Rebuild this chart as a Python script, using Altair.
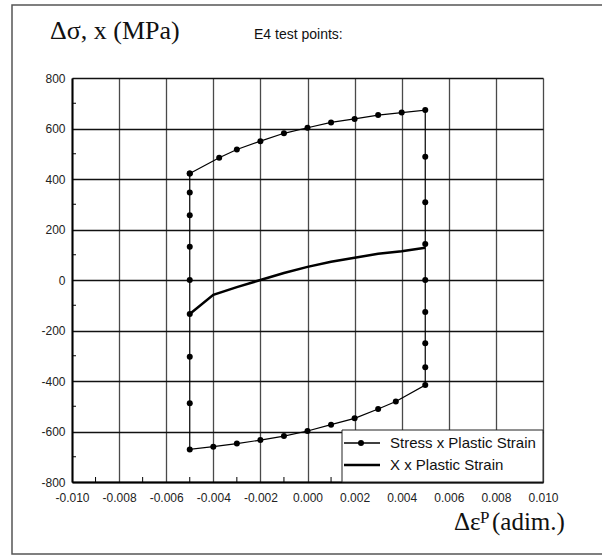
import altair as alt
import pandas as pd

# ---------------- data ----------------
# Stress x Plastic Strain hysteresis loop (drawing order)
stress_strain = [-0.005, -0.00375, -0.003, -0.002, -0.001, 0.0, 0.001, 0.002, 0.003, 0.004, 0.005,
                 0.005, 0.005, 0.005, 0.005, 0.005, 0.005, 0.005, 0.005,
                 0.00375, 0.003, 0.002, 0.001, 0.0, -0.001, -0.002, -0.003, -0.004, -0.005,
                 -0.005, -0.005, -0.005, -0.005, -0.005, -0.005, -0.005, -0.005]
stress_value = [422, 484, 517, 550, 581, 603, 624, 638, 653, 663, 673,
                488, 308, 143, 0, -127, -250, -346, -416,
                -481, -511, -548, -573, -598, -618, -634, -648, -660, -671,
                -488, -304, -135, 0, 132, 256, 347, 422]

# X x Plastic Strain (back stress)
back_strain = [-0.005, -0.004, -0.003, -0.002, -0.001, 0.0, 0.001, 0.002, 0.003, 0.004, 0.005]
back_value = [-135, -59, -28, 0, 28, 52, 72, 88, 104, 114, 128]

x_ticks = [-0.010, -0.008, -0.006, -0.004, -0.002, 0.0, 0.002, 0.004, 0.006, 0.008, 0.010]
y_ticks = [-800, -600, -400, -200, 0, 200, 400, 600, 800]
x_minor = [-0.009, -0.007, -0.005, -0.003, -0.001, 0.001, 0.003, 0.005, 0.007, 0.009]
y_minor = [-700, -500, -300, -100, 100, 300, 500, 700]

y_title = "Δσ, x (MPa)"
top_note = "E4 test points:"
x_title_main = "Δε"
x_title_sup = "P"
x_title_tail = "(adim.)"
legend_labels = ["Stress x Plastic Strain", "X x Plastic Strain"]

# ---------------- chart ----------------
W, H = 471, 404
SANS = "Liberation Sans"
SERIF = "Liberation Serif"

xs = alt.Scale(domain=[-0.010, 0.010], nice=False, zero=False)
ys = alt.Scale(domain=[-800, 800], nice=False, zero=False)

stress_df = pd.DataFrame({"strain": stress_strain, "stress": stress_value,
                          "order": list(range(len(stress_strain)))})
back_df = pd.DataFrame({"strain": back_strain, "x": back_value})

one = alt.Data(values=[{}])

x_axis = alt.Axis(values=x_ticks, grid=True, gridColor="#4a4a4a", gridWidth=1.3,
                  title=None, ticks=False, labelPadding=10, labelFont=SANS, labelFontSize=12,
                  labelFlush=False, labelOverlap=False,
                  labelColor="#222222", domainColor="black", domainWidth=2,
                  labelExpr="replace(format(datum.value, '.3f'), '\u2212', '-')")
y_axis = alt.Axis(values=y_ticks, grid=True, gridColor="#111111", gridWidth=1.5,
                  title=None, ticks=False, labelPadding=7, labelFont=SANS, labelFontSize=12,
                  labelFlush=False, labelOverlap=False,
                  labelColor="#222222", domainColor="black", domainWidth=2,
                  labelExpr="replace(format(datum.value, 'd'), '\u2212', '-')")


def X(field):
    return alt.X(field, scale=xs, axis=x_axis, title=None)


def Y(field):
    return alt.Y(field, scale=ys, axis=y_axis, title=None)


frame = alt.Chart(one).mark_rect(fillOpacity=0, stroke="#555555", strokeWidth=1.5).encode(
    x=alt.value(-60), x2=alt.value(560), y=alt.value(-73), y2=alt.value(476))

stress_line = alt.Chart(stress_df).mark_line(color="black", strokeWidth=1.2).encode(
    x=X("strain:Q"), y=Y("stress:Q"), order="order:Q")

stress_pts = alt.Chart(stress_df).mark_point(filled=True, color="black", size=36, opacity=1).encode(
    x=X("strain:Q"), y=Y("stress:Q"))

back_line = alt.Chart(back_df).mark_line(color="black", strokeWidth=2.5).encode(
    x=X("strain:Q"), y=Y("x:Q"))

ymin = alt.Chart(pd.DataFrame({"v": y_minor})).mark_rule(color="black", strokeWidth=1).encode(
    y=Y("v:Q"), x=alt.value(0), x2=alt.value(4))
xmin = alt.Chart(pd.DataFrame({"v": x_minor})).mark_rule(color="black", strokeWidth=1).encode(
    x=X("v:Q"), y=alt.value(H), y2=alt.value(H - 5))

# legend (manual)
leg_box = alt.Chart(one).mark_rect(fill="white", stroke="#222222", strokeWidth=1).encode(
    x=alt.value(270), x2=alt.value(471), y=alt.value(352), y2=alt.value(404))
leg_line1 = alt.Chart(one).mark_rule(color="black", strokeWidth=1.5).encode(
    x=alt.value(272), x2=alt.value(308), y=alt.value(365))
leg_dot = alt.Chart(one).mark_point(filled=True, color="black", size=36, opacity=1).encode(
    x=alt.value(289), y=alt.value(365))
leg_line2 = alt.Chart(one).mark_rule(color="black", strokeWidth=2.5).encode(
    x=alt.value(272), x2=alt.value(308), y=alt.value(387))
leg_t1 = alt.Chart(one).mark_text(font=SANS, fontSize=15, align="left", baseline="middle",
                                  color="#111111").encode(
    x=alt.value(318), y=alt.value(365), text=alt.value(legend_labels[0]))
leg_t2 = alt.Chart(one).mark_text(font=SANS, fontSize=15, align="left", baseline="middle",
                                  color="#111111").encode(
    x=alt.value(318), y=alt.value(387), text=alt.value(legend_labels[1]))

# titles
t_y = alt.Chart(one).mark_text(font=SERIF, fontSize=26, align="left", baseline="alphabetic",
                               color="#111111").encode(
    x=alt.value(-22), y=alt.value(-39), text=alt.value(y_title))
t_note = alt.Chart(one).mark_text(font=SANS, fontSize=14, align="left", baseline="alphabetic",
                                  color="#111111").encode(
    x=alt.value(182), y=alt.value(-39), text=alt.value(top_note))
t_x1 = alt.Chart(one).mark_text(font=SERIF, fontSize=25, align="left", baseline="alphabetic",
                                color="#111111").encode(
    x=alt.value(382), y=alt.value(452), text=alt.value(x_title_main))
t_x2 = alt.Chart(one).mark_text(font=SERIF, fontSize=17, align="left", baseline="alphabetic",
                                color="#111111").encode(
    x=alt.value(408), y=alt.value(445), text=alt.value(x_title_sup))
t_x3 = alt.Chart(one).mark_text(font=SERIF, fontSize=25, align="left", baseline="alphabetic",
                                color="#111111").encode(
    x=alt.value(420), y=alt.value(452), text=alt.value(x_title_tail))

chart = alt.layer(
    frame, stress_line, ymin, xmin, back_line, stress_pts,
    leg_box, leg_line1, leg_dot, leg_line2, leg_t1, leg_t2,
    t_y, t_note, t_x1, t_x2, t_x3
).properties(
    width=W, height=H,
    autosize=alt.AutoSizeParams(type="none"),
    padding={"left": 72, "top": 78, "right": 59, "bottom": 75},
    background="white"
).configure_view(stroke=None)

chart.save("out.html", embed_options={"renderer": "svg", "actions": False})
